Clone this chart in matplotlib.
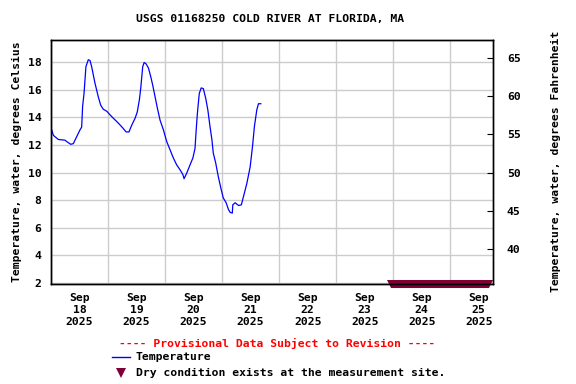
import numpy as np
import pandas as pd
import matplotlib
matplotlib.use('Agg')
import matplotlib.pyplot as plt
import matplotlib.dates as mdates
from matplotlib.lines import Line2D

# hours after 2025-09-18 00:00 and water temperature (deg C)
hours = [0.3, 1.0, 3.1, 5.9, 6.6, 8.3, 9.4, 10.8, 12.2, 12.9, 13.3, 13.9, 14.7,
         15.7, 16.4, 17.1, 17.8, 18.5, 19.2, 19.9, 20.9, 22.0, 23.5, 24.8, 26.2,
         27.7, 29.1, 30.4, 31.6, 32.8, 34.0, 35.4, 36.3, 37.2, 37.8, 38.6, 39.2,
         40.0, 41.0, 42.0, 42.8, 43.8, 44.8, 45.9, 47.3, 48.7, 50.1, 51.5, 52.9,
         54.3, 55.5, 56.0, 57.1, 58.5, 59.7, 60.6, 61.1, 61.6, 62.4, 63.2, 64.1,
         65.1, 66.0, 66.9, 67.7, 68.3, 69.3, 70.4, 71.5, 72.5, 73.7, 74.7, 75.4,
         76.3, 76.5, 77.5, 78.2, 79.0, 80.1, 81.0, 82.4, 83.8, 84.8, 85.6, 86.6,
         87.3, 88.3]
temp_c = [13.1, 12.7, 12.4, 12.35, 12.25, 12.05, 12.1, 12.6, 13.1, 13.3, 14.8,
          15.75, 17.7, 18.2, 18.15, 17.7, 17.1, 16.5, 16.0, 15.5, 14.9, 14.6,
          14.45, 14.2, 13.95, 13.7, 13.45, 13.2, 12.95, 12.95, 13.45, 13.95,
          14.4, 15.3, 16.2, 17.7, 18.0, 17.9, 17.6, 16.95, 16.35, 15.5, 14.65,
          13.8, 13.1, 12.25, 11.65, 11.05, 10.55, 10.2, 9.85, 9.55, 9.95, 10.55,
          11.05, 11.75, 13.1, 14.3, 15.75, 16.15, 16.1, 15.4, 14.55, 13.35, 12.4,
          11.4, 10.7, 9.7, 8.85, 8.15, 7.8, 7.3, 7.1, 7.05, 7.65, 7.8, 7.7, 7.6,
          7.65, 8.25, 9.2, 10.4, 11.9, 13.35, 14.55, 15.0, 15.0]

start = pd.Timestamp('2025-09-18 00:00')
end = pd.Timestamp('2025-09-25 18:00')
dry_start = pd.Timestamp('2025-09-23 23:00')
dry_end = pd.Timestamp('2025-09-25 16:30')

times = start + pd.to_timedelta(hours, unit='h')

title = 'USGS 01168250 COLD RIVER AT FLORIDA, MA'
font = 'DejaVu Sans Mono'
fs = 8.2
maroon = '#7f0037'

fig = plt.figure(figsize=(5.76, 3.84), dpi=100)
ax = fig.add_axes([51/576, 1-283.5/384, 442/576, 244/384])

ax.plot(times, temp_c, color='#0000ff', lw=0.9, zorder=3)

# dry condition band along the bottom
ylo, yhi = 1.93, 19.67
ax.plot([dry_start, dry_end], [ylo, ylo], color=maroon, lw=5.8,
        solid_capstyle='butt', clip_on=False, zorder=2)
ax.plot([dry_start, dry_end], [ylo, ylo], 'v', color=maroon, ms=5.8,
        mew=0, clip_on=False, zorder=2)

ax.set_xlim(start, end)
ax.set_ylim(ylo, yhi)
ax.set_yticks(np.arange(2, 19, 2))
ax.xaxis.set_major_locator(mdates.DayLocator())
ax.xaxis.set_major_formatter(plt.NullFormatter())
ax.xaxis.set_minor_locator(mdates.HourLocator(byhour=[12]))
ax.xaxis.set_minor_formatter(mdates.DateFormatter('%b\n%d\n%Y'))
ax.tick_params(axis='x', which='both', length=0, pad=7)
ax.tick_params(axis='y', length=0, pad=7)
ax.grid(True, which='major', color='#cccccc', lw=1)
ax.set_axisbelow(True)
for lab in ax.get_xticklabels(minor=True) + ax.get_yticklabels():
    lab.set_fontfamily(font)
    lab.set_fontweight('bold')
    lab.set_fontsize(fs)
    lab.set_linespacing(1.25)
ax.set_ylabel('Temperature, water, degrees Celsius', fontfamily=font,
              fontweight='bold', fontsize=fs, labelpad=4)

ax2 = ax.twinx()
ax2.set_ylim(ylo * 1.8 + 32, yhi * 1.8 + 32)
ax2.set_yticks(np.arange(40, 66, 5))
ax2.tick_params(axis='y', direction='in', length=4, pad=10)
for lab in ax2.get_yticklabels():
    lab.set_fontfamily(font)
    lab.set_fontweight('bold')
    lab.set_fontsize(fs)
ax2.set_ylabel('Temperature, water, degrees Fahrenheit', fontfamily=font,
               fontweight='bold', fontsize=fs, labelpad=22)
for a in (ax, ax2):
    for s in a.spines.values():
        s.set_linewidth(1.0)
        s.set_zorder(4)

fig.text(270/576, 1-19/384, title, ha='center', va='center',
         fontfamily=font, fontweight='bold', fontsize=fs)

# legend area
fig.text(277/576, 1-343/384, '---- Provisional Data Subject to Revision ----',
         ha='center', va='center', color='red', fontfamily=font,
         fontweight='bold', fontsize=fs)
fig.add_artist(Line2D([112/576, 130/576], [1-357/384, 1-357/384],
                      color='#0000ff', lw=1))
fig.text(136/576, 1-357/384, 'Temperature', ha='left', va='center',
         fontfamily=font, fontweight='bold', fontsize=fs)
fig.add_artist(Line2D([121/576], [1-373/384], marker='v', color=maroon,
                      ms=7.5, mew=0, lw=0))
fig.text(136/576, 1-373/384, 'Dry condition exists at the measurement site.',
         ha='left', va='center', fontfamily=font, fontweight='bold',
         fontsize=fs)

fig.savefig('out.png', dpi=100)
